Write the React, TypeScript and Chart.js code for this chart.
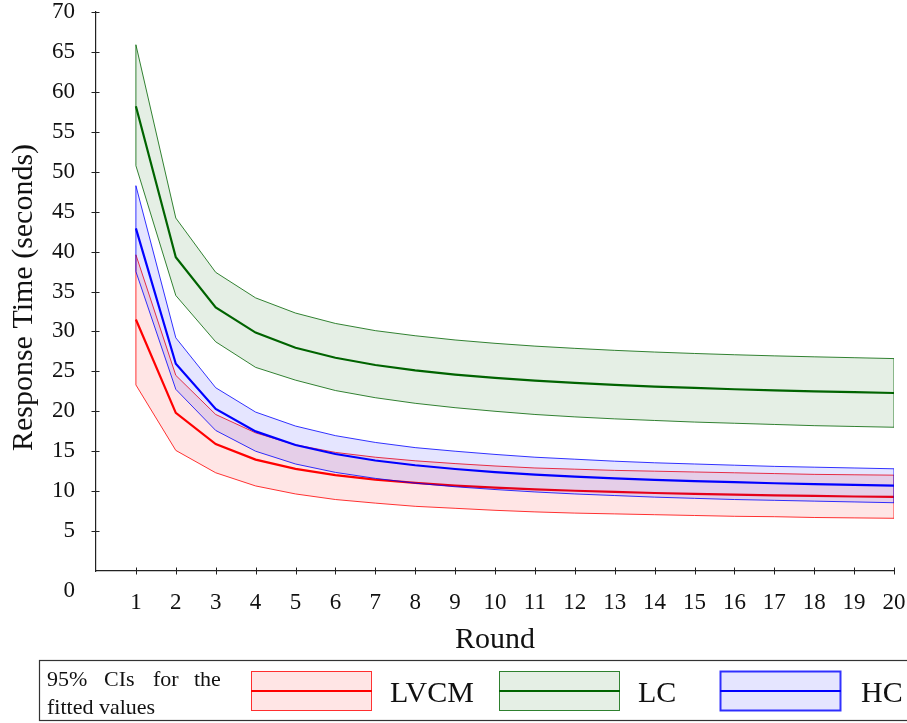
import React, { useEffect, useRef } from 'react';
import { Chart, registerables } from 'chart.js';

Chart.register(...registerables);

const FONT = '"Liberation Serif", "Times New Roman", serif';

// ---- data ----
const rounds = [1, 2, 3, 4, 5, 6, 7, 8, 9, 10, 11, 12, 13, 14, 15, 16, 17, 18, 19, 20];
const yTickValues = [0, 5, 10, 15, 20, 25, 30, 35, 40, 45, 50, 55, 60, 65, 70];

const lvcmMean = [31.5, 19.8, 15.9, 13.95, 12.78, 12.0, 11.44, 11.03, 10.7, 10.44, 10.23, 10.05, 9.9, 9.77, 9.66, 9.56, 9.48, 9.4, 9.33, 9.27];
const lvcmUpper = [39.6, 24.5, 19.6, 17.3, 15.8, 14.85, 14.25, 13.8, 13.45, 13.15, 12.9, 12.75, 12.6, 12.5, 12.4, 12.3, 12.2, 12.1, 12.05, 12.0];
const lvcmLower = [23.3, 15.1, 12.3, 10.65, 9.65, 8.95, 8.5, 8.1, 7.85, 7.6, 7.4, 7.25, 7.15, 7.05, 6.95, 6.85, 6.8, 6.7, 6.65, 6.6];

const lcMean = [58.2, 39.3, 33.0, 29.85, 27.96, 26.7, 25.8, 25.13, 24.6, 24.18, 23.84, 23.55, 23.31, 23.1, 22.92, 22.76, 22.62, 22.5, 22.39, 22.29];
const lcUpper = [65.9, 44.2, 37.4, 34.2, 32.3, 31.0, 30.1, 29.46, 28.93, 28.51, 28.16, 27.88, 27.63, 27.42, 27.24, 27.08, 26.94, 26.82, 26.71, 26.6];
const lcLower = [50.75, 34.5, 28.7, 25.5, 23.9, 22.6, 21.7, 21.0, 20.45, 20.0, 19.6, 19.3, 19.05, 18.85, 18.65, 18.5, 18.35, 18.2, 18.1, 18.0];

const hcMean = [42.9, 25.95, 20.3, 17.48, 15.78, 14.65, 13.84, 13.24, 12.77, 12.39, 12.08, 11.83, 11.61, 11.42, 11.26, 11.12, 10.99, 10.88, 10.78, 10.7];
const hcUpper = [48.25, 29.2, 22.95, 19.9, 18.15, 16.95, 16.1, 15.45, 15.0, 14.6, 14.25, 14.0, 13.75, 13.55, 13.4, 13.25, 13.1, 13.0, 12.9, 12.8];
const hcLower = [37.5, 22.75, 17.6, 15.0, 13.4, 12.35, 11.6, 11.0, 10.55, 10.2, 9.9, 9.65, 9.45, 9.25, 9.1, 8.95, 8.85, 8.75, 8.65, 8.55];

const seriesLabels = ['LVCM', 'LC', 'HC'];
const xTitle = 'Round';
const yTitle = 'Response Time (seconds)';
const legendCaptionLine1 = ['95%', 'CIs', 'for', 'the'];
const legendCaptionLine2 = 'fitted values';

// ---- styles ----
const groups = [
  { label: seriesLabels[0], mean: lvcmMean, upper: lvcmUpper, lower: lvcmLower, line: '#ff0000', bound: 'rgba(255,0,0,0.8)', fill: 'rgba(255,0,0,0.1)', order: 3 },
  { label: seriesLabels[1], mean: lcMean, upper: lcUpper, lower: lcLower, line: '#006400', bound: 'rgba(0,100,0,0.8)', fill: 'rgba(0,100,0,0.1)', order: 2 },
  { label: seriesLabels[2], mean: hcMean, upper: hcUpper, lower: hcLower, line: '#0000ff', bound: 'rgba(0,0,255,0.8)', fill: 'rgba(0,0,255,0.1)', order: 1 },
];

const pts = (arr: number[]) => rounds.map((r, i) => ({ x: r, y: arr[i] }));
const edge = (lower: number[], upper: number[], i: number) => [
  { x: rounds[i], y: lower[i] },
  { x: rounds[i], y: upper[i] },
];

function buildDatasets() {
  const ds: any[] = [];
  const last = rounds.length - 1;
  groups.forEach((g) => {
    const common = { pointRadius: 0, tension: 0, order: g.order };
    ds.push({ ...common, label: g.label + ' upper', data: pts(g.upper), borderColor: g.bound, borderWidth: 1, fill: '+2', backgroundColor: g.fill });
    ds.push({ ...common, label: g.label, data: pts(g.mean), borderColor: g.line, borderWidth: 2.2, fill: false });
    ds.push({ ...common, label: g.label + ' lower', data: pts(g.lower), borderColor: g.bound, borderWidth: 1, fill: false });
    ds.push({ ...common, label: g.label + ' edge1', data: edge(g.lower, g.upper, 0), borderColor: g.bound, borderWidth: 1, fill: false });
    ds.push({ ...common, label: g.label + ' edge2', data: edge(g.lower, g.upper, last), borderColor: g.bound, borderWidth: 1, fill: false });
  });
  return ds;
}

const decorPlugin = {
  id: 'decor',
  afterDraw(chart: any) {
    const ctx = chart.ctx as CanvasRenderingContext2D;
    const xs = chart.scales.x;
    const ys = chart.scales.y;
    const axisX = chart.chartArea.left;
    const axisY = chart.chartArea.bottom;
    ctx.save();
    // crossing tick marks
    ctx.strokeStyle = '#222';
    ctx.lineWidth = 1;
    ctx.beginPath();
    yTickValues.forEach((v) => {
      if (v === 0) return;
      const py = Math.round(ys.getPixelForValue(v)) + 0.5;
      ctx.moveTo(axisX - 4.5, py);
      ctx.lineTo(axisX + 3.5, py);
    });
    rounds.forEach((r) => {
      const px = Math.round(xs.getPixelForValue(r)) + 0.5;
      ctx.moveTo(px, axisY - 3.5);
      ctx.lineTo(px, axisY + 3.5);
    });
    ctx.stroke();

    // "0" label, set apart below the corner
    ctx.fillStyle = '#111';
    ctx.font = `23px ${FONT}`;
    ctx.textAlign = 'right';
    ctx.textBaseline = 'middle';
    ctx.fillText('0', axisX - 21, ys.getPixelForValue(0) + 20);

    // axis titles
    ctx.font = `30px ${FONT}`;
    ctx.textAlign = 'center';
    ctx.textBaseline = 'alphabetic';
    ctx.fillText(xTitle, (chart.chartArea.left + chart.chartArea.right) / 2, 648);
    ctx.save();
    ctx.translate(32, 297.5);
    ctx.rotate(-Math.PI / 2);
    ctx.fillText(yTitle, 0, 0);
    ctx.restore();

    // legend box
    ctx.strokeStyle = '#333';
    ctx.lineWidth = 1.2;
    ctx.strokeRect(39.5, 660.5, 880, 60);

    ctx.font = `22px ${FONT}`;
    ctx.textAlign = 'left';
    const wordX = [47, 104, 153, 194];
    legendCaptionLine1.forEach((w, i) => ctx.fillText(w, wordX[i], 686));
    ctx.fillText(legendCaptionLine2, 47, 714);

    const rectX = [251, 499, 720];
    const textX = [390, 638, 861];
    const borderW = [1, 1, 2];
    groups.forEach((g, i) => {
      const x0 = rectX[i];
      ctx.fillStyle = g.fill;
      ctx.fillRect(x0, 671, 120, 40);
      ctx.strokeStyle = g.bound;
      ctx.lineWidth = borderW[i];
      ctx.strokeRect(x0 + 0.5, 671.5, 120, 39);
      ctx.strokeStyle = g.line;
      ctx.lineWidth = 2.2;
      ctx.beginPath();
      ctx.moveTo(x0, 691);
      ctx.lineTo(x0 + 121, 691);
      ctx.stroke();
      ctx.fillStyle = '#111';
      ctx.font = `30px ${FONT}`;
      ctx.fillText(g.label, textX[i], 702);
    });
    ctx.restore();
  },
};

export default function App() {
  const canvasRef = useRef<HTMLCanvasElement | null>(null);

  useEffect(() => {
    if (!canvasRef.current) return;
    const chart = new Chart(canvasRef.current, {
      type: 'line',
      data: { datasets: buildDatasets() },
      options: {
        responsive: false,
        animation: false,
        devicePixelRatio: 1,
        layout: { padding: { top: 12, right: 13, bottom: 67, left: 0 } },
        plugins: {
          legend: { display: false },
          tooltip: { enabled: false },
        },
        scales: {
          x: {
            type: 'linear',
            min: 0,
            max: 20,
            afterBuildTicks: (s: any) => {
              s.ticks = rounds.map((v) => ({ value: v }));
            },
            afterFit: (s: any) => {
              s.height = 85;
            },
            grid: { display: false, drawTicks: true, tickLength: 20 },
            border: { display: true, color: '#222', width: 1.2 },
            ticks: {
              font: { family: FONT, size: 23, lineHeight: 1 },
              color: '#111',
              padding: 0,
              maxRotation: 0,
              autoSkip: false,
            },
          },
          y: {
            type: 'linear',
            min: 0,
            max: 70,
            afterBuildTicks: (s: any) => {
              s.ticks = yTickValues.map((v) => ({ value: v }));
            },
            afterFit: (s: any) => {
              s.width = 96;
            },
            grid: { display: false, drawTicks: true, tickLength: 21 },
            border: { display: true, color: '#222', width: 1.2 },
            ticks: {
              font: { family: FONT, size: 23, lineHeight: 1 },
              color: '#111',
              padding: 0,
              callback: (v: any) => (Number(v) === 0 ? '' : String(v)),
            },
          },
        },
      } as any,
      plugins: [decorPlugin],
    });
    return () => chart.destroy();
  }, []);

  return (
    <div style={{ position: 'absolute', left: 0, top: 0, width: 907, height: 723, background: '#fff' }}>
      <canvas ref={canvasRef} width={907} height={723} style={{ display: 'block', width: 907, height: 723 }} />
    </div>
  );
}
